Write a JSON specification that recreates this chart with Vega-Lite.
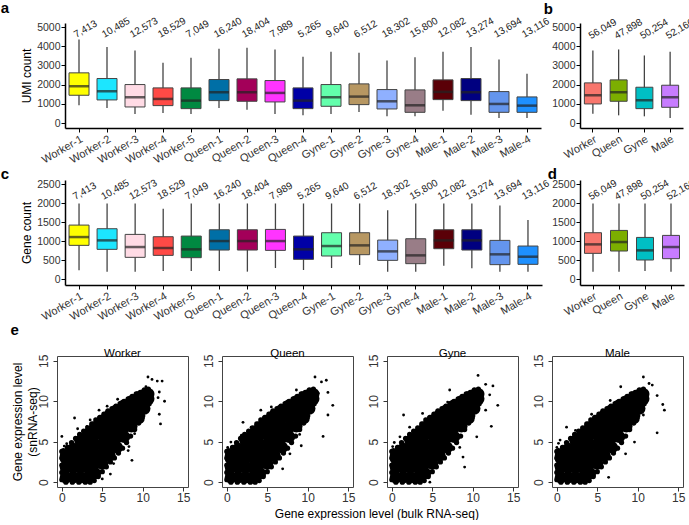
{
  "$schema": "https://vega.github.io/schema/vega-lite/v6.json",
  "padding": 0,
  "background": "white",
  "config": {
    "font": "Liberation Sans",
    "view": {"stroke": null},
    "axis": {"labelFont": "Liberation Sans", "titleFont": "Liberation Sans", "labelColor": "#333", "titleColor": "#000", "titleFontWeight": "normal", "domainColor": "#000", "tickColor": "#000", "grid": false, "labelFontSize": 11, "titleFontSize": 12, "labelOverlap": false},
    "title": {"font": "Liberation Sans", "color": "#000"}
  },
  "resolve": {"scale": {"color": "independent"}},
  "datasets": {
    "sn": [
      {"s": "Worker-1", "n": "7,413", "ulo": 923, "uq1": 1446, "umed": 1916, "uq3": 2613, "uhi": 4355, "glo": 236, "gq1": 892, "gmed": 1110, "gq3": 1425, "ghi": 1993},
      {"s": "Worker-2", "n": "10,485", "ulo": 784, "uq1": 1202, "umed": 1655, "uq3": 2317, "uhi": 3954, "glo": 201, "gq1": 787, "gmed": 1023, "gq3": 1329, "ghi": 1993},
      {"s": "Worker-3", "n": "12,573", "ulo": 470, "uq1": 836, "umed": 1341, "uq3": 2003, "uhi": 3780, "glo": 201, "gq1": 577, "gmed": 848, "gq3": 1180, "ghi": 1993},
      {"s": "Worker-4", "n": "18,529", "ulo": 523, "uq1": 906, "umed": 1254, "uq3": 1829, "uhi": 3136, "glo": 219, "gq1": 629, "gmed": 822, "gq3": 1119, "ghi": 1853},
      {"s": "Worker-5", "n": "7,049", "ulo": 470, "uq1": 749, "umed": 1167, "uq3": 1829, "uhi": 3397, "glo": 219, "gq1": 568, "gmed": 787, "gq3": 1136, "ghi": 1993},
      {"s": "Queen-1", "n": "16,240", "ulo": 784, "uq1": 1167, "umed": 1603, "uq3": 2265, "uhi": 3867, "glo": 219, "gq1": 769, "gmed": 1005, "gq3": 1302, "ghi": 1993},
      {"s": "Queen-2", "n": "18,404", "ulo": 697, "uq1": 1132, "umed": 1603, "uq3": 2300, "uhi": 3920, "glo": 201, "gq1": 769, "gmed": 1005, "gq3": 1302, "ghi": 1993},
      {"s": "Queen-3", "n": "7,989", "ulo": 470, "uq1": 1097, "umed": 1568, "uq3": 2212, "uhi": 3832, "glo": 297, "gq1": 760, "gmed": 1005, "gq3": 1311, "ghi": 1993},
      {"s": "Queen-4", "n": "5,265", "ulo": 400, "uq1": 749, "umed": 1167, "uq3": 1829, "uhi": 3450, "glo": 245, "gq1": 524, "gmed": 787, "gq3": 1136, "ghi": 1993},
      {"s": "Gyne-1", "n": "9,640", "ulo": 470, "uq1": 871, "umed": 1341, "uq3": 2003, "uhi": 3710, "glo": 297, "gq1": 612, "gmed": 874, "gq3": 1224, "ghi": 1993},
      {"s": "Gyne-2", "n": "6,512", "ulo": 575, "uq1": 958, "umed": 1376, "uq3": 2038, "uhi": 3658, "glo": 376, "gq1": 647, "gmed": 892, "gq3": 1224, "ghi": 1993},
      {"s": "Gyne-3", "n": "18,302", "ulo": 348, "uq1": 732, "umed": 1132, "uq3": 1742, "uhi": 3258, "glo": 201, "gq1": 498, "gmed": 734, "gq3": 1031, "ghi": 1818},
      {"s": "Gyne-4", "n": "15,800", "ulo": 348, "uq1": 557, "umed": 923, "uq3": 1725, "uhi": 3432, "glo": 201, "gq1": 411, "gmed": 629, "gq3": 1066, "ghi": 1993},
      {"s": "Male-1", "n": "12,082", "ulo": 645, "uq1": 1219, "umed": 1620, "uq3": 2247, "uhi": 3710, "glo": 358, "gq1": 804, "gmed": 1023, "gq3": 1302, "ghi": 1993},
      {"s": "Male-2", "n": "13,274", "ulo": 435, "uq1": 1167, "umed": 1603, "uq3": 2317, "uhi": 3954, "glo": 288, "gq1": 769, "gmed": 1023, "gq3": 1302, "ghi": 1993},
      {"s": "Male-3", "n": "13,694", "ulo": 261, "uq1": 557, "umed": 993, "uq3": 1637, "uhi": 3310, "glo": 201, "gq1": 385, "gmed": 656, "gq3": 1023, "ghi": 1940},
      {"s": "Male-4", "n": "13,116", "ulo": 261, "uq1": 557, "umed": 906, "uq3": 1359, "uhi": 2561, "glo": 201, "gq1": 393, "gmed": 594, "gq3": 874, "ghi": 1556}
    ],
    "caste": [
      {"s": "Worker", "n": "56,049", "ulo": 488, "uq1": 993, "umed": 1446, "uq3": 2090, "uhi": 3780, "glo": 201, "gq1": 682, "gmed": 918, "gq3": 1224, "ghi": 1993},
      {"s": "Queen", "n": "47,898", "ulo": 400, "uq1": 1132, "umed": 1603, "uq3": 2247, "uhi": 3832, "glo": 201, "gq1": 743, "gmed": 979, "gq3": 1285, "ghi": 1993},
      {"s": "Gyne", "n": "50,254", "ulo": 348, "uq1": 749, "umed": 1185, "uq3": 1864, "uhi": 3519, "glo": 219, "gq1": 507, "gmed": 760, "gq3": 1101, "ghi": 1993},
      {"s": "Male", "n": "52,166", "ulo": 261, "uq1": 819, "umed": 1341, "uq3": 1968, "uhi": 3710, "glo": 201, "gq1": 542, "gmed": 848, "gq3": 1154, "ghi": 1993}
    ],
    "core": [
      {"x": 0.5, "y": 0.6}, {"x": 0.5, "y": 1.8}, {"x": 0.5, "y": 2.9}, {"x": 0.5, "y": 3.3},
      {"x": 1.4, "y": 0.6}, {"x": 1.4, "y": 1.8}, {"x": 1.4, "y": 3.0}, {"x": 1.4, "y": 4.1},
      {"x": 2.3, "y": 0.6}, {"x": 2.3, "y": 1.8}, {"x": 2.3, "y": 3.0}, {"x": 2.3, "y": 4.2}, {"x": 2.3, "y": 5.1},
      {"x": 3.2, "y": 0.6}, {"x": 3.2, "y": 1.8}, {"x": 3.2, "y": 3.0}, {"x": 3.2, "y": 4.2}, {"x": 3.2, "y": 5.4}, {"x": 3.2, "y": 5.9},
      {"x": 4.1, "y": 1.1}, {"x": 4.1, "y": 2.3}, {"x": 4.1, "y": 3.5}, {"x": 4.1, "y": 4.7}, {"x": 4.1, "y": 5.9}, {"x": 4.1, "y": 6.8},
      {"x": 5.0, "y": 2.3}, {"x": 5.0, "y": 3.5}, {"x": 5.0, "y": 4.7}, {"x": 5.0, "y": 5.9}, {"x": 5.0, "y": 7.0}, {"x": 5.0, "y": 7.6},
      {"x": 5.9, "y": 3.3}, {"x": 5.9, "y": 4.5}, {"x": 5.9, "y": 5.7}, {"x": 5.9, "y": 6.9}, {"x": 5.9, "y": 8.0}, {"x": 5.9, "y": 8.3},
      {"x": 6.8, "y": 4.3}, {"x": 6.8, "y": 5.5}, {"x": 6.8, "y": 6.7}, {"x": 6.8, "y": 7.9}, {"x": 6.8, "y": 8.9},
      {"x": 7.7, "y": 5.6}, {"x": 7.7, "y": 6.8}, {"x": 7.7, "y": 8.0}, {"x": 7.7, "y": 9.1}, {"x": 7.7, "y": 9.5},
      {"x": 8.6, "y": 6.9}, {"x": 8.6, "y": 8.1}, {"x": 8.6, "y": 9.3}, {"x": 8.6, "y": 10.0},
      {"x": 9.5, "y": 7.9}, {"x": 9.5, "y": 9.0}, {"x": 9.5, "y": 10.1}, {"x": 9.5, "y": 10.5},
      {"x": 10.2, "y": 9.1}, {"x": 10.2, "y": 10.2}, {"x": 10.2, "y": 10.8},
      {"x": 10.7, "y": 10.3}, {"x": 10.7, "y": 10.9}
    ],
    "edge": [
      {"x": 0.2, "y": 3.9}, {"x": 0.7, "y": 4.3}, {"x": 1.2, "y": 4.9}, {"x": 1.7, "y": 5.4}, {"x": 2.2, "y": 5.9}, {"x": 2.7, "y": 6.3}, {"x": 3.2, "y": 6.7}, {"x": 3.7, "y": 7.2}, {"x": 4.2, "y": 7.7}, {"x": 4.7, "y": 8.0}, {"x": 5.2, "y": 8.4}, {"x": 5.7, "y": 8.8}, {"x": 6.2, "y": 9.1}, {"x": 6.7, "y": 9.4}, {"x": 7.2, "y": 9.7}, {"x": 7.7, "y": 10.0}, {"x": 8.2, "y": 10.3}, {"x": 8.7, "y": 10.6}, {"x": 9.2, "y": 10.9}, {"x": 9.7, "y": 11.1}, {"x": 10.2, "y": 11.4}, {"x": 10.7, "y": 11.5},
      {"x": 3.5, "y": 0.0}, {"x": 4.0, "y": 0.2}, {"x": 4.5, "y": 0.7}, {"x": 5.0, "y": 1.3}, {"x": 5.5, "y": 1.9}, {"x": 6.0, "y": 2.5}, {"x": 6.5, "y": 3.0}, {"x": 7.0, "y": 3.6}, {"x": 7.5, "y": 4.2}, {"x": 8.0, "y": 4.9}, {"x": 8.5, "y": 5.7}, {"x": 9.0, "y": 6.5}, {"x": 9.5, "y": 7.3}, {"x": 10.0, "y": 8.2}, {"x": 10.4, "y": 8.9}, {"x": 10.8, "y": 9.7}, {"x": 11.0, "y": 10.5},
      {"x": 0.0, "y": 0.3}, {"x": 0.0, "y": 1.2}, {"x": 0.0, "y": 2.1}, {"x": 0.0, "y": 3.0}, {"x": 0.0, "y": 3.8},
      {"x": 0.5, "y": 0.0}, {"x": 1.3, "y": 0.0}, {"x": 2.1, "y": 0.0}, {"x": 2.9, "y": 0.0}
    ],
    "fringe": [
      {"p": "Worker", "x": 1.57, "y": 7.93}, {"p": "Worker", "x": 3.5, "y": 7.7}, {"p": "Worker", "x": 1.95, "y": 6.6}, {"p": "Worker", "x": 3.1, "y": 6.9}, {"p": "Worker", "x": 0.0, "y": 5.66}, {"p": "Worker", "x": 0.3, "y": 4.46}, {"p": "Worker", "x": 0.6, "y": 4.75}, {"p": "Worker", "x": 6.9, "y": 10.25}, {"p": "Worker", "x": 8.67, "y": 2.7}, {"p": "Worker", "x": 8.3, "y": 4.4}, {"p": "Worker", "x": 8.2, "y": 3.9}, {"p": "Worker", "x": 12.2, "y": 7.2}, {"p": "Worker", "x": 12.05, "y": 8.4}, {"p": "Worker", "x": 12.7, "y": 10.0}, {"p": "Worker", "x": 11.9, "y": 10.45}, {"p": "Worker", "x": 12.05, "y": 11.15}, {"p": "Worker", "x": 11.15, "y": 12.7}, {"p": "Worker", "x": 11.8, "y": 12.5}, {"p": "Worker", "x": 12.4, "y": 12.5}, {"p": "Worker", "x": 10.65, "y": 13.0}, {"p": "Worker", "x": 11.07, "y": 10.5}, {"p": "Worker", "x": 10.4, "y": 11.8}, {"p": "Worker", "x": 9.1, "y": 7.4}, {"p": "Worker", "x": 9.0, "y": 6.0}, {"p": "Worker", "x": 6.4, "y": 2.3}, {"p": "Worker", "x": 6.0, "y": 1.0}, {"p": "Worker", "x": 0.4, "y": 3.1}, {"p": "Worker", "x": 5.0, "y": 0.4}, {"p": "Worker", "x": 4.6, "y": 8.9}, {"p": "Worker", "x": 5.6, "y": 9.4},
      {"p": "Queen", "x": 2.0, "y": 7.4}, {"p": "Queen", "x": 4.2, "y": 8.9}, {"p": "Queen", "x": 8.6, "y": 11.4}, {"p": "Queen", "x": 10.9, "y": 13.0}, {"p": "Queen", "x": 11.7, "y": 12.4}, {"p": "Queen", "x": 12.3, "y": 12.6}, {"p": "Queen", "x": 12.5, "y": 11.1}, {"p": "Queen", "x": 13.1, "y": 9.5}, {"p": "Queen", "x": 12.5, "y": 8.3}, {"p": "Queen", "x": 11.9, "y": 5.66}, {"p": "Queen", "x": 9.2, "y": 4.5}, {"p": "Queen", "x": 9.0, "y": 5.9}, {"p": "Queen", "x": 0.1, "y": 4.3}, {"p": "Queen", "x": 0.5, "y": 4.95}, {"p": "Queen", "x": 1.8, "y": 5.8}, {"p": "Queen", "x": 2.6, "y": 6.2}, {"p": "Queen", "x": 3.0, "y": 6.8}, {"p": "Queen", "x": 6.9, "y": 1.65}, {"p": "Queen", "x": 7.8, "y": 3.5}, {"p": "Queen", "x": 10.9, "y": 10.2}, {"p": "Queen", "x": 10.0, "y": 7.8}, {"p": "Queen", "x": 11.3, "y": 11.0}, {"p": "Queen", "x": 5.5, "y": 9.3},
      {"p": "Gyne", "x": 1.45, "y": 8.3}, {"p": "Gyne", "x": 7.15, "y": 11.4}, {"p": "Gyne", "x": 6.9, "y": 9.9}, {"p": "Gyne", "x": 10.66, "y": 13.2}, {"p": "Gyne", "x": 11.6, "y": 12.1}, {"p": "Gyne", "x": 12.5, "y": 11.9}, {"p": "Gyne", "x": 12.1, "y": 10.8}, {"p": "Gyne", "x": 13.1, "y": 9.5}, {"p": "Gyne", "x": 11.6, "y": 8.9}, {"p": "Gyne", "x": 12.3, "y": 6.9}, {"p": "Gyne", "x": 10.5, "y": 5.6}, {"p": "Gyne", "x": 9.0, "y": 1.86}, {"p": "Gyne", "x": 0.1, "y": 4.4}, {"p": "Gyne", "x": 0.0, "y": 3.7}, {"p": "Gyne", "x": 2.2, "y": 6.8}, {"p": "Gyne", "x": 2.6, "y": 6.2}, {"p": "Gyne", "x": 4.7, "y": 0.0}, {"p": "Gyne", "x": 8.4, "y": 4.3}, {"p": "Gyne", "x": 8.8, "y": 3.1}, {"p": "Gyne", "x": 3.8, "y": 8.5}, {"p": "Gyne", "x": 9.9, "y": 10.5}, {"p": "Gyne", "x": 0.3, "y": 4.9}, {"p": "Gyne", "x": 1.0, "y": 5.6},
      {"p": "Male", "x": 7.9, "y": 11.8}, {"p": "Male", "x": 6.6, "y": 10.1}, {"p": "Male", "x": 10.7, "y": 13.0}, {"p": "Male", "x": 11.4, "y": 12.2}, {"p": "Male", "x": 11.8, "y": 12.0}, {"p": "Male", "x": 12.4, "y": 10.7}, {"p": "Male", "x": 13.1, "y": 9.6}, {"p": "Male", "x": 13.3, "y": 8.9}, {"p": "Male", "x": 12.4, "y": 6.1}, {"p": "Male", "x": 10.7, "y": 8.3}, {"p": "Male", "x": 1.2, "y": 6.8}, {"p": "Male", "x": 0.4, "y": 5.2}, {"p": "Male", "x": 0.0, "y": 4.3}, {"p": "Male", "x": 2.3, "y": 6.4}, {"p": "Male", "x": 6.4, "y": 0.6}, {"p": "Male", "x": 8.5, "y": 3.5}, {"p": "Male", "x": 9.6, "y": 4.95}, {"p": "Male", "x": 5.4, "y": 8.3}, {"p": "Male", "x": 10.1, "y": 9.9}, {"p": "Male", "x": 0.2, "y": 4.8}, {"p": "Male", "x": 4.3, "y": 8.4}
    ]
  },
  "spacing": 0,
  "vconcat": [
    {
      "resolve": {"scale": {"color": "independent"}},
      "bounds": "flush",
      "spacing": 7,
      "hconcat": [
        {"width": 1, "height": 1, "data": {"values": []}, "mark": "point"},
        {
          "resolve": {"scale": {"color": "independent"}},
          "bounds": "flush",
          "spacing": 39,
          "hconcat": [
            {
              "title": {"text": "a", "anchor": "start", "frame": "bounds", "fontSize": 15, "fontWeight": "bold", "dx": -20, "offset": 0},
              "width": 476, "height": 105,
              "data": {"name": "sn"},
              "encoding": {
                "x": {"field": "s", "type": "nominal", "sort": null, "scale": {"paddingInner": 0, "paddingOuter": 0}, "axis": {"title": null, "labelAngle": -30, "labelFontSize": 11, "tickSize": 4, "labelPadding": 1, "domainWidth": 1.5}}
              },
              "layer": [
                {"mark": {"type": "rule", "color": "#444", "strokeWidth": 1.3}, "encoding": {"y": {"field": "ulo", "type": "quantitative", "scale": {"domain": [-260, 5210], "nice": false}, "axis": {"values": [0, 1000, 2000, 3000, 4000, 5000], "tickCount": 6, "format": "d", "labelOverlap": false, "title": "UMI count", "labelFontSize": 10.5, "tickSize": 4, "labelPadding": 1, "titlePadding": 3, "domainWidth": 1.5}}, "y2": {"field": "uhi"}}},
                {"mark": {"type": "bar", "size": 20, "stroke": "#444", "strokeWidth": 1}, "encoding": {"y": {"field": "uq1", "type": "quantitative", "axis": {"values": [0, 1000, 2000, 3000, 4000, 5000], "tickCount": 6, "format": "d", "labelOverlap": false, "title": "UMI count", "labelFontSize": 10.5, "tickSize": 4, "labelPadding": 1, "titlePadding": 3, "domainWidth": 1.5}}, "y2": {"field": "uq3"}, "color": {"field": "s", "type": "nominal", "legend": null, "scale": {"domain": ["Worker-1", "Worker-2", "Worker-3", "Worker-4", "Worker-5", "Queen-1", "Queen-2", "Queen-3", "Queen-4", "Gyne-1", "Gyne-2", "Gyne-3", "Gyne-4", "Male-1", "Male-2", "Male-3", "Male-4"], "range": ["#FFFF00", "#1CE6FF", "#FFDBE5", "#FF4A46", "#008941", "#006FA6", "#A30059", "#FF34FF", "#0000A6", "#63FFAC", "#B79762", "#8FB0FF", "#997D87", "#5A0007", "#000080", "#6495ED", "#1E90FF"]}}}},
                {"mark": {"type": "tick", "color": "#222", "thickness": 2.5, "size": 20}, "encoding": {"y": {"field": "umed", "type": "quantitative", "axis": {"values": [0, 1000, 2000, 3000, 4000, 5000], "tickCount": 6, "format": "d", "labelOverlap": false, "title": "UMI count", "labelFontSize": 10.5, "tickSize": 4, "labelPadding": 1, "titlePadding": 3, "domainWidth": 1.5}}}},
                {"mark": {"type": "text", "angle": -30, "fontSize": 10, "color": "#222", "align": "left", "baseline": "middle", "dx": -5}, "encoding": {"y": {"datum": 4700}, "text": {"field": "n"}}}
              ]
            },
            {
              "title": {"text": "b", "anchor": "start", "frame": "bounds", "fontSize": 15, "fontWeight": "bold", "dx": -8, "offset": 0},
              "width": 103, "height": 105,
              "data": {"name": "caste"},
              "encoding": {
                "x": {"field": "s", "type": "nominal", "sort": null, "scale": {"paddingInner": 0, "paddingOuter": 0}, "axis": {"title": null, "labelAngle": -30, "labelFontSize": 11, "tickSize": 4, "labelPadding": 1, "domainWidth": 1.5}}
              },
              "layer": [
                {"mark": {"type": "rule", "color": "#444", "strokeWidth": 1.3}, "encoding": {"y": {"field": "ulo", "type": "quantitative", "scale": {"domain": [-260, 5210], "nice": false}, "axis": {"values": [0, 1000, 2000, 3000, 4000, 5000], "tickCount": 6, "format": "d", "labelOverlap": false, "title": null, "labelFontSize": 10.5, "tickSize": 4, "labelPadding": 1, "domainWidth": 1.5}}, "y2": {"field": "uhi"}}},
                {"mark": {"type": "bar", "size": 17, "stroke": "#444", "strokeWidth": 1}, "encoding": {"y": {"field": "uq1", "type": "quantitative", "axis": {"values": [0, 1000, 2000, 3000, 4000, 5000], "tickCount": 6, "format": "d", "labelOverlap": false, "title": null, "labelFontSize": 10.5, "tickSize": 4, "labelPadding": 1, "domainWidth": 1.5}}, "y2": {"field": "uq3"}, "color": {"field": "s", "type": "nominal", "legend": null, "scale": {"domain": ["Worker", "Queen", "Gyne", "Male"], "range": ["#F8766D", "#7CAE00", "#00BFC4", "#C77CFF"]}}}},
                {"mark": {"type": "tick", "color": "#222", "thickness": 2.5, "size": 17}, "encoding": {"y": {"field": "umed", "type": "quantitative", "axis": {"values": [0, 1000, 2000, 3000, 4000, 5000], "tickCount": 6, "format": "d", "labelOverlap": false, "title": null, "labelFontSize": 10.5, "tickSize": 4, "labelPadding": 1, "domainWidth": 1.5}}}},
                {"mark": {"type": "text", "angle": -30, "fontSize": 10, "color": "#222", "align": "left", "baseline": "middle", "dx": -4}, "encoding": {"y": {"datum": 4600}, "text": {"field": "n"}}}
              ]
            }
          ]
        }
      ]
    },
    {
      "resolve": {"scale": {"color": "independent"}},
      "bounds": "flush",
      "spacing": 7,
      "hconcat": [
        {"width": 1, "height": 1, "data": {"values": []}, "mark": "point"},
        {
          "resolve": {"scale": {"color": "independent"}},
          "bounds": "flush",
          "spacing": 38,
          "hconcat": [
            {
              "title": {"text": "c", "anchor": "start", "frame": "bounds", "fontSize": 15, "fontWeight": "bold", "dx": -20, "offset": -4},
              "width": 477, "height": 105,
              "data": {"name": "sn"},
              "encoding": {
                "x": {"field": "s", "type": "nominal", "sort": null, "scale": {"paddingInner": 0, "paddingOuter": 0}, "axis": {"title": null, "labelAngle": -30, "labelFontSize": 11, "tickSize": 4, "labelPadding": 1, "domainWidth": 1.5}}
              },
              "layer": [
                {"mark": {"type": "rule", "color": "#444", "strokeWidth": 1.3}, "encoding": {"y": {"field": "glo", "type": "quantitative", "scale": {"domain": [-150, 2610], "nice": false}, "axis": {"values": [0, 500, 1000, 1500, 2000, 2500], "tickCount": 6, "format": "d", "labelOverlap": false, "title": "Gene count", "labelFontSize": 10.5, "tickSize": 4, "labelPadding": 1, "titlePadding": 3, "domainWidth": 1.5}}, "y2": {"field": "ghi"}}},
                {"mark": {"type": "bar", "size": 20, "stroke": "#444", "strokeWidth": 1}, "encoding": {"y": {"field": "gq1", "type": "quantitative", "axis": {"values": [0, 500, 1000, 1500, 2000, 2500], "tickCount": 6, "format": "d", "labelOverlap": false, "title": "Gene count", "labelFontSize": 10.5, "tickSize": 4, "labelPadding": 1, "titlePadding": 3, "domainWidth": 1.5}}, "y2": {"field": "gq3"}, "color": {"field": "s", "type": "nominal", "legend": null, "scale": {"domain": ["Worker-1", "Worker-2", "Worker-3", "Worker-4", "Worker-5", "Queen-1", "Queen-2", "Queen-3", "Queen-4", "Gyne-1", "Gyne-2", "Gyne-3", "Gyne-4", "Male-1", "Male-2", "Male-3", "Male-4"], "range": ["#FFFF00", "#1CE6FF", "#FFDBE5", "#FF4A46", "#008941", "#006FA6", "#A30059", "#FF34FF", "#0000A6", "#63FFAC", "#B79762", "#8FB0FF", "#997D87", "#5A0007", "#000080", "#6495ED", "#1E90FF"]}}}},
                {"mark": {"type": "tick", "color": "#222", "thickness": 2.5, "size": 20}, "encoding": {"y": {"field": "gmed", "type": "quantitative", "axis": {"values": [0, 500, 1000, 1500, 2000, 2500], "tickCount": 6, "format": "d", "labelOverlap": false, "title": "Gene count", "labelFontSize": 10.5, "tickSize": 4, "labelPadding": 1, "titlePadding": 3, "domainWidth": 1.5}}}},
                {"mark": {"type": "text", "angle": -30, "fontSize": 10, "color": "#222", "align": "left", "baseline": "middle", "dx": -6}, "encoding": {"y": {"datum": 2230}, "text": {"field": "n"}}}
              ]
            },
            {
              "title": {"text": "d", "anchor": "start", "frame": "bounds", "fontSize": 15, "fontWeight": "bold", "dx": -4, "offset": -4},
              "width": 104, "height": 105,
              "data": {"name": "caste"},
              "encoding": {
                "x": {"field": "s", "type": "nominal", "sort": null, "scale": {"paddingInner": 0, "paddingOuter": 0}, "axis": {"title": null, "labelAngle": -30, "labelFontSize": 11, "tickSize": 4, "labelPadding": 1, "domainWidth": 1.5}}
              },
              "layer": [
                {"mark": {"type": "rule", "color": "#444", "strokeWidth": 1.3}, "encoding": {"y": {"field": "glo", "type": "quantitative", "scale": {"domain": [-150, 2610], "nice": false}, "axis": {"values": [0, 500, 1000, 1500, 2000, 2500], "tickCount": 6, "format": "d", "labelOverlap": false, "title": null, "labelFontSize": 10.5, "tickSize": 4, "labelPadding": 1, "domainWidth": 1.5}}, "y2": {"field": "ghi"}}},
                {"mark": {"type": "bar", "size": 17, "stroke": "#444", "strokeWidth": 1}, "encoding": {"y": {"field": "gq1", "type": "quantitative", "axis": {"values": [0, 500, 1000, 1500, 2000, 2500], "tickCount": 6, "format": "d", "labelOverlap": false, "title": null, "labelFontSize": 10.5, "tickSize": 4, "labelPadding": 1, "domainWidth": 1.5}}, "y2": {"field": "gq3"}, "color": {"field": "s", "type": "nominal", "legend": null, "scale": {"domain": ["Worker", "Queen", "Gyne", "Male"], "range": ["#F8766D", "#7CAE00", "#00BFC4", "#C77CFF"]}}}},
                {"mark": {"type": "tick", "color": "#222", "thickness": 2.5, "size": 17}, "encoding": {"y": {"field": "gmed", "type": "quantitative", "axis": {"values": [0, 500, 1000, 1500, 2000, 2500], "tickCount": 6, "format": "d", "labelOverlap": false, "title": null, "labelFontSize": 10.5, "tickSize": 4, "labelPadding": 1, "domainWidth": 1.5}}}},
                {"mark": {"type": "text", "angle": -30, "fontSize": 10, "color": "#222", "align": "left", "baseline": "middle", "dx": -4}, "encoding": {"y": {"datum": 2200}, "text": {"field": "n"}}}
              ]
            }
          ]
        }
      ]
    },
    {
      "title": {"text": "e", "anchor": "start", "frame": "bounds", "fontSize": 15, "fontWeight": "bold", "offset": 9},
      "vconcat": [
        {
          "title": {"text": "Gene expression level (bulk RNA-seq)", "orient": "bottom", "anchor": "middle", "fontSize": 12, "fontWeight": "normal", "dx": 29, "offset": 5},
          "bounds": "flush",
          "spacing": 34,
          "hconcat": [
            {
              "title": {"text": "Worker", "fontSize": 11.5, "fontWeight": "normal", "offset": -5},
              "width": 131, "height": 131,
              "view": {"stroke": "#444"},
              "encoding": {
                "x": {"field": "x", "type": "quantitative", "scale": {"domain": [-0.6, 15.6], "nice": false, "zero": false}, "axis": {"values": [0, 5, 10, 15], "title": null, "domain": false, "tickSize": 4, "labelFontSize": 12, "tickColor": "#333", "labelPadding": 1}},
                "y": {"field": "y", "type": "quantitative", "scale": {"domain": [-0.6, 15.6], "nice": false, "zero": false}, "axis": {"values": [0, 5, 10, 15], "title": ["Gene expression level", "(snRNA-seq)"], "titleFontSize": 12, "titleX": -40, "titleY": 65.5, "titleAngle": -90, "titleAlign": "center", "titleBaseline": "middle", "titleLineHeight": 15, "domain": false, "tickSize": 4, "labelFontSize": 12, "tickColor": "#333", "labelAngle": -90, "labelAlign": "center", "labelBaseline": "bottom", "labelPadding": 3}}
              },
              "layer": [
                {"data": {"name": "core"}, "mark": {"type": "circle", "size": 150, "color": "#000", "opacity": 1}},
                {"data": {"name": "edge"}, "mark": {"type": "circle", "size": 28, "color": "#000", "opacity": 1}},
                {"data": {"name": "fringe"}, "transform": [{"filter": "datum.p == 'Worker'"}], "mark": {"type": "circle", "size": 8, "color": "#000", "opacity": 1}},
                {"data": {"values": [{"r": "Pearson's r = 0.9079"}]}, "mark": {"type": "text", "fontSize": 8.5, "color": "#222"}, "encoding": {"x": {"datum": 7.4}, "y": {"datum": 14}, "text": {"field": "r"}}}
              ]
            },
            {
              "title": {"text": "Queen", "fontSize": 11.5, "fontWeight": "normal", "offset": -5},
              "width": 131, "height": 131,
              "view": {"stroke": "#444"},
              "encoding": {
                "x": {"field": "x", "type": "quantitative", "scale": {"domain": [-0.6, 15.6], "nice": false, "zero": false}, "axis": {"values": [0, 5, 10, 15], "title": null, "domain": false, "tickSize": 4, "labelFontSize": 12, "tickColor": "#333", "labelPadding": 1}},
                "y": {"field": "y", "type": "quantitative", "scale": {"domain": [-0.6, 15.6], "nice": false, "zero": false}, "axis": {"values": [0, 5, 10, 15], "title": null, "domain": false, "tickSize": 4, "labelFontSize": 12, "tickColor": "#333", "labelAngle": -90, "labelAlign": "center", "labelBaseline": "bottom", "labelPadding": 3}}
              },
              "layer": [
                {"data": {"name": "core"}, "mark": {"type": "circle", "size": 150, "color": "#000", "opacity": 1}},
                {"data": {"name": "edge"}, "mark": {"type": "circle", "size": 28, "color": "#000", "opacity": 1}},
                {"data": {"name": "fringe"}, "transform": [{"filter": "datum.p == 'Queen'"}], "mark": {"type": "circle", "size": 8, "color": "#000", "opacity": 1}},
                {"data": {"values": [{"r": "Pearson's r = 0.9087"}]}, "mark": {"type": "text", "fontSize": 8.5, "color": "#222"}, "encoding": {"x": {"datum": 7.4}, "y": {"datum": 14}, "text": {"field": "r"}}}
              ]
            },
            {
              "title": {"text": "Gyne", "fontSize": 11.5, "fontWeight": "normal", "offset": -5},
              "width": 131, "height": 131,
              "view": {"stroke": "#444"},
              "encoding": {
                "x": {"field": "x", "type": "quantitative", "scale": {"domain": [-0.6, 15.6], "nice": false, "zero": false}, "axis": {"values": [0, 5, 10, 15], "title": null, "domain": false, "tickSize": 4, "labelFontSize": 12, "tickColor": "#333", "labelPadding": 1}},
                "y": {"field": "y", "type": "quantitative", "scale": {"domain": [-0.6, 15.6], "nice": false, "zero": false}, "axis": {"values": [0, 5, 10, 15], "title": null, "domain": false, "tickSize": 4, "labelFontSize": 12, "tickColor": "#333", "labelAngle": -90, "labelAlign": "center", "labelBaseline": "bottom", "labelPadding": 3}}
              },
              "layer": [
                {"data": {"name": "core"}, "mark": {"type": "circle", "size": 150, "color": "#000", "opacity": 1}},
                {"data": {"name": "edge"}, "mark": {"type": "circle", "size": 28, "color": "#000", "opacity": 1}},
                {"data": {"name": "fringe"}, "transform": [{"filter": "datum.p == 'Gyne'"}], "mark": {"type": "circle", "size": 8, "color": "#000", "opacity": 1}},
                {"data": {"values": [{"r": "Pearson's r = 0.8845"}]}, "mark": {"type": "text", "fontSize": 8.5, "color": "#222"}, "encoding": {"x": {"datum": 7.4}, "y": {"datum": 14}, "text": {"field": "r"}}}
              ]
            },
            {
              "title": {"text": "Male", "fontSize": 11.5, "fontWeight": "normal", "offset": -5},
              "width": 131, "height": 131,
              "view": {"stroke": "#444"},
              "encoding": {
                "x": {"field": "x", "type": "quantitative", "scale": {"domain": [-0.6, 15.6], "nice": false, "zero": false}, "axis": {"values": [0, 5, 10, 15], "title": null, "domain": false, "tickSize": 4, "labelFontSize": 12, "tickColor": "#333", "labelPadding": 1}},
                "y": {"field": "y", "type": "quantitative", "scale": {"domain": [-0.6, 15.6], "nice": false, "zero": false}, "axis": {"values": [0, 5, 10, 15], "title": null, "domain": false, "tickSize": 4, "labelFontSize": 12, "tickColor": "#333", "labelAngle": -90, "labelAlign": "center", "labelBaseline": "bottom", "labelPadding": 3}}
              },
              "layer": [
                {"data": {"name": "core"}, "mark": {"type": "circle", "size": 150, "color": "#000", "opacity": 1}},
                {"data": {"name": "edge"}, "mark": {"type": "circle", "size": 28, "color": "#000", "opacity": 1}},
                {"data": {"name": "fringe"}, "transform": [{"filter": "datum.p == 'Male'"}], "mark": {"type": "circle", "size": 8, "color": "#000", "opacity": 1}},
                {"data": {"values": [{"r": "Pearson's r = 0.8839"}]}, "mark": {"type": "text", "fontSize": 8.5, "color": "#222"}, "encoding": {"x": {"datum": 7.4}, "y": {"datum": 14}, "text": {"field": "r"}}}
              ]
            }
          ]
        }
      ]
    }
  ]
}
